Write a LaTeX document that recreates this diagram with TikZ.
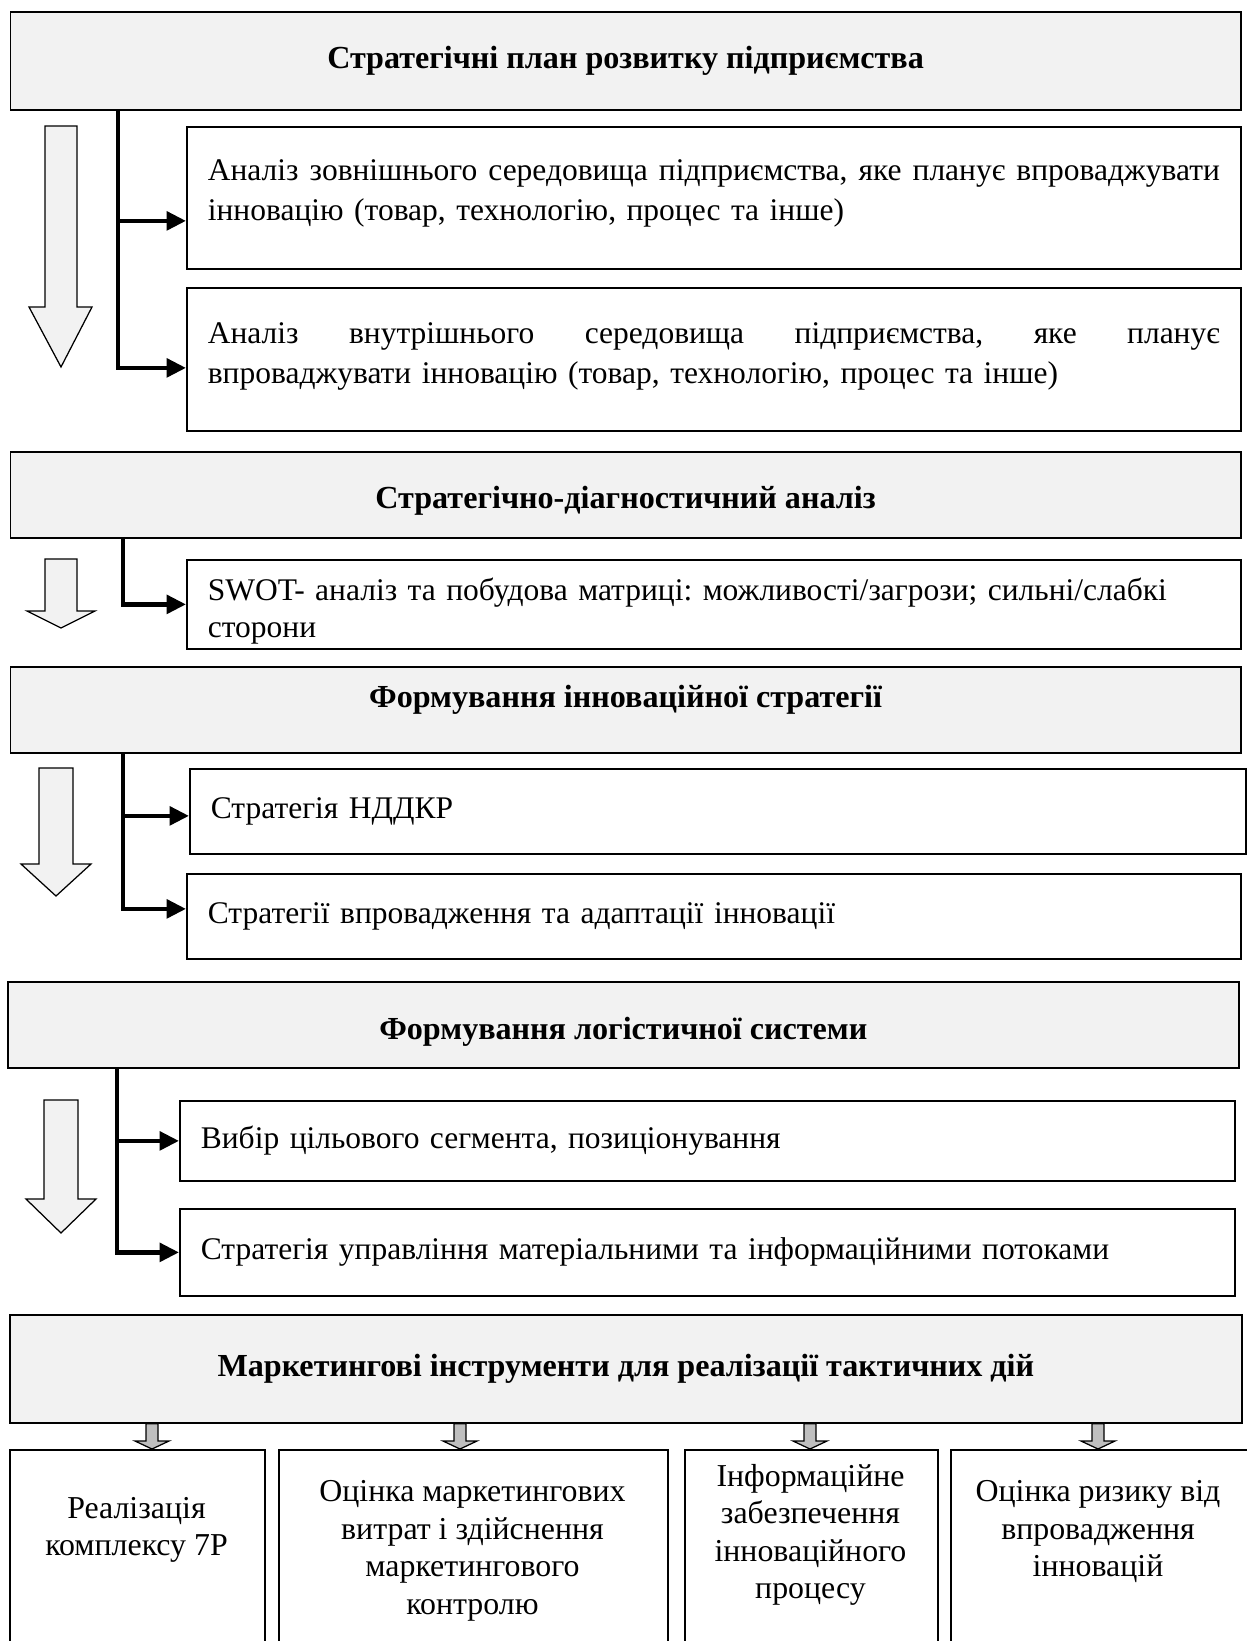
\documentclass[tikz,border=0pt]{standalone}
\usepackage{fontspec}
\setmainfont{Liberation Serif}
\frenchspacing
\usetikzlibrary{calc,arrows.meta}
\definecolor{hdrfill}{HTML}{F2F2F2}
\definecolor{arrgray}{HTML}{BFBFBF}
\tikzset{
  boxbase/.style={draw=black, line width=0.7pt, anchor=north west, inner sep=0pt},
  hdr/.style={boxbase, fill=hdrfill, align=center, font=\fontsize{12.85}{16}\selectfont\bfseries},
  rowbox/.style={boxbase, fill=white, align=left, font=\fontsize{12.6}{16}\selectfont},
  btm/.style={boxbase, fill=white},
  btext/.style={align=center, inner sep=0pt, font=\fontsize{12.75}{15}\selectfont},
  conn/.style={line width=1.8pt, -{Triangle[length=7.8pt,width=7.4pt]}},
  hollow/.style={draw=black, line width=0.5pt, fill=hdrfill},
  grayar/.style={draw=black, line width=0.5pt, fill=arrgray},
}
\newcommand\myhdr[6]{%
  \pgfmathsetmacro\mw{(#4-#2)*0.4}\pgfmathsetmacro\mh{(#5-#3)*0.4}%
  \node[hdr, minimum width=\mw pt, minimum height=\mh pt] (#1) at (#2,#3) {#6};}
\newcommand\myrow[7][]{%
  \pgfmathsetmacro\mw{(#5-#3)*0.4}\pgfmathsetmacro\mh{(#6-#4)*0.4}\pgfmathsetmacro\tw{(#5-#3-42)*0.4}%
  \node[rowbox, minimum width=\mw pt, minimum height=\mh pt, text width=\tw pt, #1] (#2) at (#3,#4) {#7};}
\newcommand\mybtm[5]{%
  \pgfmathsetmacro\mw{(#4-#2)*0.4}\pgfmathsetmacro\mh{(#5-#3)*0.4}%
  \node[btm, minimum width=\mw pt, minimum height=\mh pt] (#1) at (#2,#3) {};}
\newcommand\hollowarrow[7]{%
  \draw[hollow] (#1,#3) -- (#2,#3) -- (#2,#4) -- (#6,#4) -- ({(#1+#2)/2},#7) -- (#5,#4) -- (#1,#4) -- cycle;}
\newcommand\grayarrow[2]{%
  \draw[grayar] let \p1=(h5.south -| #1), \p2=(#2.north -| #1) in
    (\x1-2.4pt,\y1) -- (\x1+2.4pt,\y1) -- (\x1+2.4pt,\y2+3.2pt) -- (\x1+6.8pt,\y2+3.2pt)
    -- (\x1,\y2) -- (\x1-6.8pt,\y2+3.2pt) -- (\x1-2.4pt,\y2+3.2pt) -- cycle;}
\begin{document}
\begin{tikzpicture}[x=0.4pt,y=-0.4pt]
\useasboundingbox[fill=white] (0,0) rectangle (1247,1641);

% headers
\myhdr{h1}{9.5}{11}{1240}{109}{Стратегічні план розвитку підприємства}
\myhdr{h2}{9.5}{451}{1240}{537}{\raisebox{-2.5pt}[\height][\depth]{Стратегічно-діагностичний аналіз}}
\myhdr{h3}{9.5}{666}{1240}{752}{\raisebox{11pt}{Формування інноваційної стратегії}}
\myhdr{h4}{7}{981}{1238}{1067}{\raisebox{-2.9pt}[\height][\depth]{Формування логістичної системи}}
\myhdr{h5}{9}{1314}{1241}{1422}{Маркетингові інструменти для реалізації тактичних дій}

% rows
\myrow{a1}{186}{126}{1240}{268}{\hbox to 404.8pt{Аналіз\hfill зовнішнього\hfill середовища\hfill підприємства,\hfill яке\hfill планує\hfill впроваджувати}\\інновацію (товар, технологію, процес та інше)\rule[-6.2pt]{0pt}{0pt}}
\myrow{a2}{186}{287}{1240}{430}{\hbox to 404.8pt{Аналіз\hfill внутрішнього\hfill середовища\hfill підприємства,\hfill яке\hfill планує}\\впроваджувати інновацію (товар, технологію, процес та інше)\rule[-4.8pt]{0pt}{0pt}}
\myrow[font=\fontsize{12.6}{14.8}\selectfont]{s1}{186}{559}{1240}{648}{\rule{0pt}{14.7pt}SWOT- аналіз та побудова матриці: можливості/загрози; сильні/слабкі\\сторони}
\myrow{n1}{189}{768}{1245}{853}{Стратегія НДДКР}
\myrow{n2}{186}{873}{1240}{958}{Стратегії впровадження та адаптації інновації}
\myrow{v1}{179}{1100}{1234}{1180}{Вибір цільового сегмента, позиціонування}
\myrow{v2}{179}{1208}{1234}{1295}{Стратегія управління матеріальними та інформаційними потоками}

% bottom boxes
\mybtm{b1}{9}{1449}{264}{1670}
\mybtm{b2}{278}{1449}{667}{1670}
\mybtm{b3}{684}{1449}{937}{1670}
\mybtm{b4}{950}{1449}{1250}{1670}
\node[btext] (t1) at (136.5,1530) {Реалізація\\комплексу 7P};
\node[btext] (t2) at (472.5,1551) {Оцінка маркетингових\\витрат і здійснення\\маркетингового\\контролю};
\node[btext] (t3) at (810.5,1535) {Інформаційне\\забезпечення\\інноваційного\\процесу};
\node[btext] (t4) at (1098,1532) {Оцінка ризику від\\впровадження\\інновацій};

% hollow flow arrows
\hollowarrow{45}{77}{126}{307}{29}{92}{367}
\hollowarrow{45}{77}{559}{611}{27}{95}{628}
\hollowarrow{39}{73}{768}{864}{21}{91}{896}
\hollowarrow{44}{78}{1100}{1199}{26}{96}{1233}

% connectors
\coordinate (c1) at (118,0);
\coordinate (c2) at (123,0);
\coordinate (c3) at (123,0);
\coordinate (c4) at (117,0);
\draw[conn] (h1.south -| c1) |- ([yshift=-9.2pt]a1.west);
\draw[conn] (h1.south -| c1) |- ([yshift=-3.4pt]a2.west);
\draw[conn] (h2.south -| c2) |- (s1.west);
\draw[conn] (h3.south -| c3) |- ([yshift=-1.8pt]n1.west);
\draw[conn] (h3.south -| c3) |- ([yshift=3pt]n2.west);
\draw[conn] (h4.south -| c4) |- (v1.west);
\draw[conn] (h4.south -| c4) |- (v2.west);

% gray arrows
\coordinate (g1) at (152,0);
\coordinate (g2) at (460,0);
\coordinate (g3) at (810,0);
\coordinate (g4) at (1098,0);
\grayarrow{g1}{b1}
\grayarrow{g2}{b2}
\grayarrow{g3}{b3}
\grayarrow{g4}{b4}
\end{tikzpicture}
\end{document}
